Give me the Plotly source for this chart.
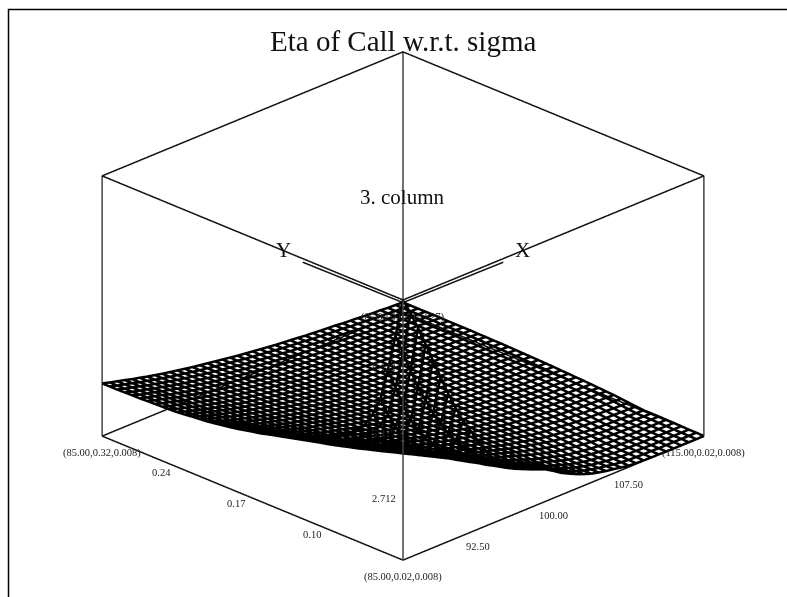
import plotly.graph_objects as go

# grid of the wire mesh
price = [85.0, 85.75, 86.5, 87.25, 88.0, 88.75, 89.5, 90.25, 91.0, 91.75, 92.5, 93.25, 94.0, 94.75,
         95.5, 96.25, 97.0, 97.75, 98.5, 99.25, 100.0, 100.75, 101.5, 102.25, 103.0, 103.75, 104.5,
         105.25, 106.0, 106.75, 107.5, 108.25, 109.0, 109.75, 110.5, 111.25, 112.0, 112.75, 113.5,
         114.25, 115.0]
sigma = [0.02, 0.0275, 0.035, 0.0425, 0.05, 0.0575, 0.065, 0.0725, 0.08, 0.0875, 0.095, 0.1025, 0.11,
         0.1175, 0.125, 0.1325, 0.14, 0.1475, 0.155, 0.1625, 0.17, 0.1775, 0.185, 0.1925, 0.2, 0.2075,
         0.215, 0.2225, 0.23, 0.2375, 0.245, 0.2525, 0.26, 0.2675, 0.275, 0.2825, 0.29, 0.2975, 0.305,
         0.3125, 0.32]

# eta, one row per sigma
eta = [
    [10.82, 10.15, 9.41, 8.60, 7.79, 6.98, 6.16, 5.43, 4.76, 4.22, 3.68, 3.14, 2.65, 2.23, 2.03, 1.87, 1.73, 1.59, 1.46, 1.33, 1.14, .93, .77, .62, .49, .38, .30, .23, .18, .12, .07, .04, .03, .02, .02, .01, .01, .01, .01, .01, .01],
    [9.20, 8.36, 7.52, 6.68, 6.00, 5.34, 4.78, 4.25, 3.82, 3.44, 3.07, 2.72, 2.41, 2.13, 1.95, 1.79, 1.66, 1.53, 1.40, 1.26, 1.08, .90, .75, .61, .49, .38, .30, .23, .18, .12, .08, .05, .04, .03, .03, .02, .02, .02, .02, .02, .02],
    [7.68, 6.79, 5.96, 5.19, 4.65, 4.16, 3.78, 3.42, 3.17, 2.91, 2.66, 2.42, 2.24, 2.04, 1.88, 1.72, 1.59, 1.46, 1.33, 1.19, 1.03, .88, .72, .60, .49, .38, .30, .23, .18, .13, .10, .06, .05, .04, .03, .02, .02, .02, .02, .02, .02],
    [6.33, 5.56, 4.89, 4.34, 4.02, 3.67, 3.37, 3.10, 2.96, 2.75, 2.54, 2.33, 2.15, 1.98, 1.81, 1.66, 1.52, 1.39, 1.26, 1.12, .98, .85, .70, .59, .49, .38, .30, .23, .18, .14, .11, .07, .06, .05, .04, .03, .03, .03, .03, .03, .03],
    [5.58, 4.97, 4.44, 4.01, 3.73, 3.41, 3.19, 2.95, 2.82, 2.63, 2.44, 2.25, 2.08, 1.92, 1.76, 1.63, 1.49, 1.36, 1.23, 1.09, .97, .84, .71, .61, .51, .41, .32, .25, .20, .16, .12, .09, .08, .06, .05, .04, .04, .04, .04, .04, .04],
    [5.02, 4.55, 4.15, 3.81, 3.54, 3.23, 3.06, 2.83, 2.69, 2.51, 2.34, 2.18, 2.02, 1.86, 1.70, 1.59, 1.45, 1.32, 1.20, 1.07, .96, .84, .72, .62, .53, .44, .35, .28, .23, .18, .14, .11, .09, .07, .06, .05, .04, .04, .04, .04, .04],
    [4.68, 4.28, 3.93, 3.64, 3.39, 3.14, 2.94, 2.75, 2.58, 2.41, 2.25, 2.11, 1.96, 1.81, 1.67, 1.55, 1.42, 1.30, 1.18, 1.07, .97, .86, .75, .65, .56, .47, .39, .32, .27, .22, .18, .15, .12, .10, .08, .07, .06, .05, .05, .05, .05],
    [4.40, 4.05, 3.74, 3.47, 3.24, 3.01, 2.82, 2.65, 2.48, 2.32, 2.17, 2.04, 1.90, 1.76, 1.62, 1.51, 1.39, 1.28, 1.16, 1.06, .97, .87, .76, .67, .59, .50, .42, .35, .30, .25, .22, .18, .15, .12, .10, .09, .08, .07, .06, .05, .05],
    [4.17, 3.86, 3.57, 3.30, 3.08, 2.87, 2.71, 2.55, 2.38, 2.24, 2.11, 1.98, 1.84, 1.70, 1.58, 1.47, 1.35, 1.25, 1.15, 1.05, .96, .87, .77, .69, .61, .54, .46, .39, .33, .28, .24, .21, .17, .14, .12, .10, .09, .08, .07, .06, .05],
    [4.00, 3.71, 3.44, 3.18, 2.98, 2.78, 2.62, 2.47, 2.31, 2.18, 2.05, 1.93, 1.80, 1.66, 1.55, 1.45, 1.33, 1.24, 1.14, 1.04, .96, .87, .78, .70, .63, .56, .48, .42, .36, .31, .27, .24, .20, .18, .16, .13, .12, .11, .10, .09, .08],
    [3.83, 3.56, 3.31, 3.07, 2.87, 2.69, 2.54, 2.39, 2.24, 2.12, 2.00, 1.88, 1.75, 1.63, 1.52, 1.42, 1.31, 1.22, 1.13, 1.04, .96, .88, .79, .71, .64, .58, .51, .44, .39, .34, .31, .28, .24, .21, .19, .17, .16, .15, .13, .12, .11],
    [3.66, 3.41, 3.17, 2.95, 2.77, 2.59, 2.45, 2.32, 2.17, 2.05, 1.94, 1.83, 1.71, 1.59, 1.49, 1.40, 1.29, 1.21, 1.12, 1.03, .96, .88, .80, .73, .66, .60, .53, .47, .42, .38, .34, .31, .27, .25, .23, .20, .19, .18, .17, .16, .14],
    [3.52, 3.28, 3.06, 2.85, 2.68, 2.51, 2.38, 2.25, 2.11, 2.00, 1.89, 1.79, 1.67, 1.56, 1.46, 1.37, 1.28, 1.19, 1.11, 1.03, .96, .88, .80, .74, .67, .62, .55, .49, .45, .40, .37, .34, .30, .28, .26, .23, .22, .21, .19, .18, .17],
    [3.39, 3.17, 2.96, 2.77, 2.60, 2.44, 2.32, 2.19, 2.06, 1.95, 1.85, 1.75, 1.64, 1.53, 1.44, 1.36, 1.26, 1.18, 1.10, 1.03, .96, .89, .81, .75, .69, .63, .57, .51, .47, .43, .39, .37, .33, .30, .28, .26, .24, .23, .22, .21, .19],
    [3.29, 3.08, 2.88, 2.70, 2.53, 2.39, 2.26, 2.14, 2.02, 1.91, 1.81, 1.72, 1.61, 1.51, 1.42, 1.34, 1.25, 1.17, 1.10, 1.02, .96, .89, .81, .75, .69, .64, .59, .53, .49, .45, .41, .39, .35, .32, .30, .28, .26, .25, .24, .23, .21],
    [3.19, 2.99, 2.80, 2.63, 2.47, 2.33, 2.21, 2.10, 1.98, 1.88, 1.78, 1.69, 1.59, 1.49, 1.41, 1.33, 1.24, 1.17, 1.09, 1.02, .96, .89, .82, .76, .70, .65, .60, .54, .50, .46, .43, .41, .37, .34, .32, .30, .28, .27, .25, .24, .23],
    [3.09, 2.90, 2.72, 2.56, 2.41, 2.28, 2.16, 2.05, 1.93, 1.84, 1.75, 1.66, 1.56, 1.47, 1.39, 1.31, 1.23, 1.16, 1.08, 1.02, .95, .89, .83, .77, .71, .67, .61, .56, .52, .48, .45, .43, .39, .37, .35, .32, .30, .29, .27, .26, .25],
    [3.00, 2.82, 2.66, 2.50, 2.36, 2.23, 2.12, 2.01, 1.90, 1.81, 1.72, 1.63, 1.54, 1.45, 1.37, 1.30, 1.22, 1.15, 1.08, 1.01, .95, .89, .83, .77, .72, .68, .63, .57, .54, .50, .47, .45, .41, .38, .36, .34, .32, .31, .29, .28, .26],
    [2.92, 2.75, 2.59, 2.44, 2.30, 2.18, 2.07, 1.97, 1.86, 1.78, 1.69, 1.60, 1.52, 1.43, 1.36, 1.29, 1.21, 1.14, 1.07, 1.01, .95, .90, .83, .78, .73, .69, .64, .59, .55, .52, .49, .46, .42, .40, .38, .35, .34, .33, .31, .30, .28],
    [2.83, 2.67, 2.52, 2.38, 2.25, 2.14, 2.03, 1.93, 1.83, 1.74, 1.66, 1.58, 1.49, 1.41, 1.34, 1.27, 1.20, 1.13, 1.07, 1.01, .95, .90, .84, .79, .74, .70, .65, .60, .57, .53, .51, .48, .44, .42, .40, .37, .36, .35, .32, .31, .29],
    [2.77, 2.61, 2.47, 2.34, 2.21, 2.10, 2.00, 1.90, 1.80, 1.72, 1.64, 1.56, 1.48, 1.40, 1.33, 1.26, 1.19, 1.13, 1.06, 1.01, .95, .90, .84, .79, .75, .70, .66, .61, .58, .54, .52, .50, .46, .43, .41, .39, .37, .36, .33, .32, .31],
    [2.70, 2.55, 2.42, 2.29, 2.17, 2.06, 1.96, 1.87, 1.77, 1.69, 1.62, 1.54, 1.46, 1.39, 1.32, 1.25, 1.19, 1.12, 1.06, 1.01, .95, .90, .84, .79, .75, .71, .67, .62, .59, .56, .53, .51, .47, .45, .43, .40, .38, .37, .35, .34, .32],
    [2.63, 2.50, 2.37, 2.25, 2.13, 2.03, 1.93, 1.84, 1.75, 1.67, 1.60, 1.52, 1.44, 1.37, 1.31, 1.24, 1.18, 1.12, 1.06, 1.00, .95, .90, .85, .80, .76, .72, .68, .63, .60, .57, .54, .52, .48, .46, .44, .41, .39, .38, .36, .35, .33],
    [2.57, 2.44, 2.32, 2.20, 2.09, 1.99, 1.90, 1.81, 1.72, 1.65, 1.57, 1.50, 1.43, 1.36, 1.30, 1.23, 1.17, 1.11, 1.05, 1.00, .95, .90, .85, .80, .76, .73, .69, .64, .61, .58, .56, .53, .49, .47, .45, .42, .41, .40, .37, .36, .34],
    [2.52, 2.39, 2.28, 2.17, 2.06, 1.96, 1.87, 1.79, 1.70, 1.63, 1.56, 1.48, 1.41, 1.35, 1.29, 1.23, 1.17, 1.11, 1.05, 1.00, .95, .90, .85, .81, .77, .73, .70, .65, .62, .59, .57, .55, .51, .48, .46, .44, .42, .41, .38, .37, .35],
    [2.47, 2.35, 2.24, 2.13, 2.02, 1.94, 1.85, 1.76, 1.68, 1.61, 1.54, 1.47, 1.40, 1.34, 1.28, 1.22, 1.16, 1.10, 1.05, 1.00, .95, .90, .86, .81, .77, .74, .70, .66, .63, .60, .58, .56, .52, .49, .47, .45, .43, .42, .39, .38, .36],
    [2.42, 2.31, 2.20, 2.10, 2.00, 1.91, 1.82, 1.74, 1.66, 1.59, 1.52, 1.46, 1.39, 1.33, 1.27, 1.21, 1.15, 1.10, 1.04, 1.00, .95, .91, .86, .81, .78, .74, .71, .66, .64, .61, .59, .56, .52, .50, .48, .45, .44, .43, .40, .39, .37],
    [2.39, 2.28, 2.18, 2.08, 1.98, 1.89, 1.81, 1.73, 1.65, 1.58, 1.51, 1.45, 1.38, 1.32, 1.26, 1.21, 1.15, 1.10, 1.04, .99, .95, .91, .86, .82, .78, .75, .71, .67, .65, .61, .59, .57, .53, .51, .49, .46, .44, .43, .40, .39, .38],
    [2.36, 2.25, 2.15, 2.06, 1.96, 1.88, 1.79, 1.71, 1.63, 1.57, 1.50, 1.44, 1.37, 1.31, 1.26, 1.20, 1.15, 1.09, 1.04, .99, .95, .91, .86, .82, .78, .75, .72, .68, .65, .62, .60, .58, .54, .52, .50, .47, .45, .44, .41, .40, .38],
    [2.32, 2.22, 2.13, 2.04, 1.94, 1.86, 1.77, 1.70, 1.62, 1.56, 1.49, 1.43, 1.36, 1.31, 1.25, 1.20, 1.14, 1.09, 1.04, .99, .95, .91, .86, .82, .79, .76, .72, .68, .66, .63, .61, .58, .54, .52, .50, .47, .46, .45, .42, .41, .39],
    [2.29, 2.19, 2.10, 2.01, 1.92, 1.84, 1.76, 1.68, 1.61, 1.54, 1.48, 1.42, 1.35, 1.30, 1.25, 1.19, 1.14, 1.09, 1.04, .99, .95, .91, .87, .82, .79, .76, .73, .69, .66, .63, .61, .59, .55, .53, .51, .48, .46, .45, .42, .41, .39],
    [2.27, 2.17, 2.09, 2.00, 1.90, 1.83, 1.75, 1.67, 1.60, 1.54, 1.47, 1.41, 1.35, 1.30, 1.24, 1.19, 1.14, 1.09, 1.03, .99, .95, .91, .87, .83, .79, .76, .73, .69, .67, .64, .62, .60, .56, .54, .52, .49, .47, .46, .43, .42, .40],
    [2.26, 2.16, 2.08, 1.99, 1.90, 1.82, 1.74, 1.67, 1.59, 1.53, 1.47, 1.41, 1.35, 1.29, 1.24, 1.19, 1.14, 1.09, 1.03, .99, .95, .91, .87, .83, .79, .76, .73, .69, .67, .64, .62, .60, .56, .54, .52, .49, .47, .46, .43, .42, .40],
    [2.25, 2.15, 2.07, 1.98, 1.89, 1.82, 1.73, 1.66, 1.59, 1.53, 1.47, 1.40, 1.34, 1.29, 1.24, 1.19, 1.14, 1.08, 1.03, .99, .95, .91, .87, .83, .79, .76, .73, .69, .67, .64, .62, .60, .56, .54, .52, .49, .47, .46, .43, .42, .40],
    [2.24, 2.14, 2.06, 1.97, 1.88, 1.81, 1.73, 1.66, 1.58, 1.52, 1.46, 1.40, 1.34, 1.29, 1.24, 1.18, 1.13, 1.08, 1.03, .99, .95, .91, .87, .83, .79, .77, .74, .70, .67, .64, .62, .60, .56, .54, .52, .49, .47, .46, .43, .42, .40],
    [2.22, 2.13, 2.05, 1.97, 1.87, 1.80, 1.72, 1.65, 1.58, 1.52, 1.46, 1.40, 1.34, 1.29, 1.23, 1.18, 1.13, 1.08, 1.03, .99, .95, .91, .87, .83, .80, .77, .74, .70, .68, .65, .63, .61, .57, .55, .53, .50, .48, .47, .44, .43, .41],
    [2.22, 2.12, 2.04, 1.96, 1.87, 1.80, 1.72, 1.65, 1.58, 1.52, 1.45, 1.39, 1.33, 1.28, 1.23, 1.18, 1.13, 1.08, 1.03, .99, .95, .91, .87, .83, .80, .77, .74, .70, .68, .65, .63, .61, .57, .55, .53, .50, .48, .47, .44, .43, .41],
    [2.21, 2.11, 2.03, 1.95, 1.86, 1.79, 1.71, 1.64, 1.57, 1.51, 1.45, 1.39, 1.33, 1.28, 1.23, 1.18, 1.13, 1.08, 1.03, .99, .95, .91, .87, .83, .80, .77, .74, .70, .68, .65, .63, .61, .57, .55, .53, .50, .48, .47, .44, .43, .41],
    [2.20, 2.11, 2.03, 1.95, 1.86, 1.79, 1.71, 1.64, 1.57, 1.51, 1.45, 1.39, 1.33, 1.28, 1.23, 1.18, 1.13, 1.08, 1.03, .99, .95, .91, .87, .83, .80, .77, .74, .70, .68, .65, .63, .61, .57, .55, .53, .50, .48, .47, .44, .43, .41],
    [2.20, 2.11, 2.03, 1.95, 1.86, 1.79, 1.71, 1.64, 1.57, 1.51, 1.45, 1.39, 1.33, 1.28, 1.23, 1.18, 1.13, 1.08, 1.03, .99, .95, .91, .87, .83, .80, .77, .74, .70, .68, .65, .63, .61, .57, .55, .53, .50, .48, .47, .44, .43, .41],
    [2.20, 2.11, 2.03, 1.95, 1.86, 1.79, 1.71, 1.64, 1.57, 1.51, 1.45, 1.39, 1.33, 1.28, 1.23, 1.18, 1.13, 1.08, 1.03, .99, .95, .91, .87, .83, .80, .77, .74, .70, .68, .65, .63, .61, .57, .55, .53, .50, .48, .47, .44, .43, .41],
]

x_lo, x_hi = 85.0, 115.0
y_lo, y_hi = 0.02, 0.32
z_lo, z_hi = 0.008, 10.827

x_ticks = [92.5, 100.0, 107.5]
y_ticks = [0.095, 0.17, 0.245]
y_tick_text = ["0.10", "0.17", "0.24"]
z_ticks = [2.712, 5.417, 8.122]

FONT = "Liberation Serif"

# mesh, rows then columns, gaps with None
mx, my, mz = [], [], []
for i, s in enumerate(sigma):
    for j, p in enumerate(price):
        mx.append(p); my.append(s); mz.append(eta[i][j])
    mx.append(None); my.append(None); mz.append(None)
for j, p in enumerate(price):
    for i, s in enumerate(sigma):
        mx.append(p); my.append(s); mz.append(eta[i][j])
    mx.append(None); my.append(None); mz.append(None)

fig = go.Figure()
fig.add_trace(go.Scatter3d(x=mx, y=my, z=mz, mode="lines",
                           line=dict(color="black", width=5), hoverinfo="skip"))

# horizontal edges of the box
ex, ey, ez = [], [], []
for z in [z_lo, z_hi]:
    ex += [x_lo, x_hi, x_hi, x_lo, x_lo, None]
    ey += [y_lo, y_lo, y_hi, y_hi, y_lo, None]
    ez += [z, z, z, z, z, None]
# the two stubs beside the X and Y edges
ex += [x_hi, x_hi, None, x_hi, 105.0, None]
ey += [y_hi, 0.22, None, y_hi, y_hi, None]
ez += [0.4, 3.8, None, 0.4, 3.8, None]
fig.add_trace(go.Scatter3d(x=ex, y=ey, z=ez, mode="lines",
                           line=dict(color="#111111", width=3), hoverinfo="skip"))

# vertical edges, greyer in the original
vx, vy, vz = [], [], []
for cx, cy in [(x_lo, y_lo), (x_hi, y_lo), (x_hi, y_hi), (x_lo, y_hi)]:
    vx += [cx, cx, None]; vy += [cy, cy, None]; vz += [z_lo, z_hi, None]
fig.add_trace(go.Scatter3d(x=vx, y=vy, z=vz, mode="lines",
                           line=dict(color="#444444", width=3), hoverinfo="skip"))


def lab(x, y, z, text, xs=0, ys=0):
    return dict(x=x, y=y, z=z, text=text, showarrow=False, xshift=xs, yshift=ys,
                font=dict(family=FONT, size=10.5, color="#222222"))


notes = [
    lab(x_lo, y_hi, z_lo, "(85.00,0.32,0.008)", 0, -17),
    lab(x_hi, y_lo, z_lo, "(115.00,0.02,0.008)", 0, -17),
    lab(x_lo, y_lo, z_lo, "(85.00,0.02,0.008)", 0, -17),
    lab(x_lo, y_lo, z_hi, "(85.00,0.02,10.827)", 0, -17),
]
for t in x_ticks:
    notes.append(lab(t, y_lo, z_lo, "%.2f" % t, 0, -17))
for t, s in zip(y_ticks, y_tick_text):
    notes.append(lab(x_lo, t, z_lo, s, -16, -5))
for t in z_ticks:
    notes.append(lab(x_lo, y_lo, t, "%.3f" % t, -19, -3))


def big(text, px, py, size):
    return dict(text=text, x=px / 787, y=1 - py / 597, xref="paper", yref="paper",
                xanchor="center", yanchor="middle", showarrow=False,
                font=dict(family=FONT, size=size, color="#111111"))


fig.update_layout(
    width=787, height=597,
    margin=dict(l=0, r=0, t=0, b=0),
    paper_bgcolor="white",
    showlegend=False,
    scene=dict(
        domain=dict(x=[0.024, 1.0], y=[0.0, 0.975]),
        aspectmode="manual",
        aspectratio=dict(x=1.467, y=1.467, z=0.985),
        camera=dict(projection=dict(type="orthographic"),
                    eye=dict(x=-1.0, y=-1.0, z=0.64),
                    up=dict(x=0, y=0, z=1)),
        # a hair wider than the data, lines on the exact limit get clipped
        xaxis=dict(range=[x_lo - 0.05, x_hi + 0.05], visible=False),
        yaxis=dict(range=[y_lo - 0.0005, y_hi + 0.0005], visible=False),
        zaxis=dict(range=[z_lo - 0.02, z_hi + 0.02], visible=False),
        annotations=notes,
    ),
    annotations=[
        big("Eta of Call w.r.t. sigma", 403, 41, 29),
        big("3. column", 402, 197, 21),
        big("X", 522, 250, 21),
        big("Y", 283, 250, 21),
    ],
    shapes=[dict(type="rect", xref="paper", yref="paper", x0=8.5 / 787, x1=1.2, y0=-0.2, y1=1 - 9.5 / 597,
                 line=dict(color="black", width=1.5))],
)

# the page has a default body margin, drop it so pixels line up
fig.write_html("out.html", config=dict(displayModeBar=False),
               post_script="document.body.style.margin='0';")
